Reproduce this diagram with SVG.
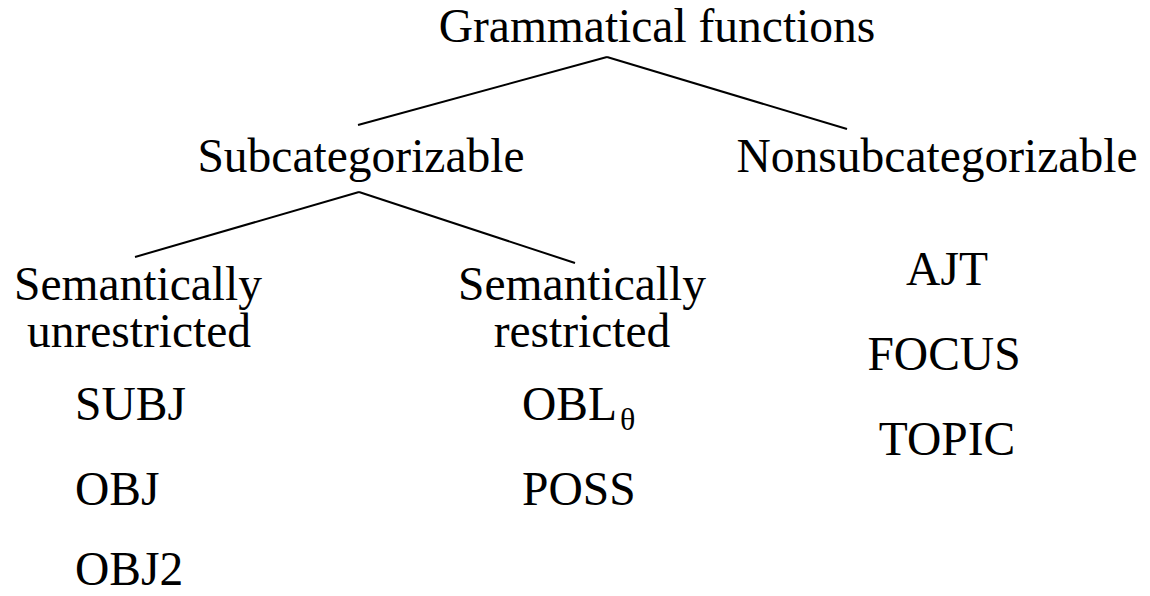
<svg xmlns="http://www.w3.org/2000/svg" width="1150" height="596" viewBox="0 0 1150 596">
<style>
text{font-family:"Liberation Serif","Times New Roman",serif;font-size:47.5px;fill:#000}
.m{text-anchor:middle}
line{stroke:#000;stroke-width:2}
</style>
<rect width="1150" height="596" fill="#fff"/>
<g id="connectors">
<line x1="607" y1="57" x2="358" y2="125"/>
<line x1="607" y1="57" x2="847" y2="129"/>
<line x1="359" y1="192" x2="135" y2="257"/>
<line x1="359" y1="192" x2="575" y2="263"/>
</g>
<g id="root"><text class="m" x="657" y="42">Grammatical functions</text></g>
<g id="subcat"><text class="m" x="361" y="172">Subcategorizable</text></g>
<g id="nonsubcat"><text class="m" x="937" y="172">Nonsubcategorizable</text>
<text class="m" x="947" y="285">AJT</text>
<text class="m" x="944" y="370">FOCUS</text>
<text class="m" x="947" y="455">TOPIC</text></g>
<g id="unrestricted"><text class="m" x="138" y="300">Semantically</text>
<text class="m" x="139" y="347">unrestricted</text>
<text x="75" y="420">SUBJ</text>
<text x="75" y="505">OBJ</text>
<text x="75" y="585">OBJ2</text></g>
<g id="restricted"><text class="m" x="582" y="300">Semantically</text>
<text class="m" x="582" y="347">restricted</text>
<text x="522" y="420">OBL<tspan font-size="32" dx="3" dy="10">θ</tspan></text>
<text x="522" y="505">POSS</text></g>
</svg>
